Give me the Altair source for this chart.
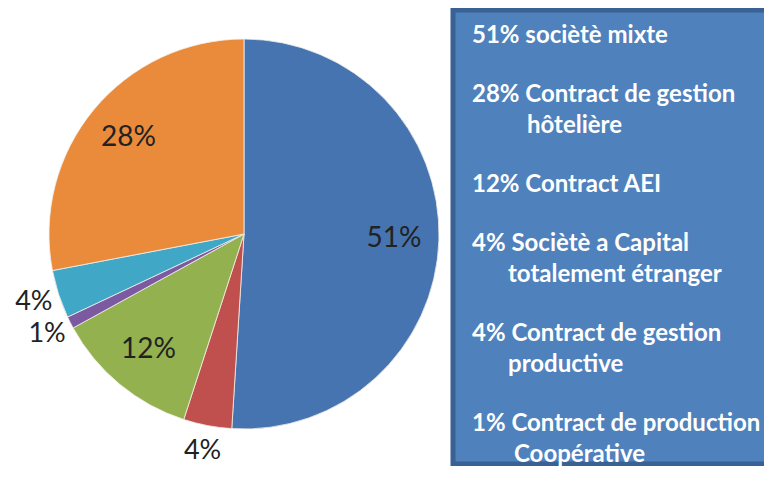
import altair as alt
import pandas as pd

# ---- data ----
categories = [
    "société mixte",
    "Contract de production",
    "Contract AEI",
    "Contract de production Coopérative",
    "Sociètè a Capital totalement étranger",
    "Contract de gestion hôtelière",
]
shares = [51, 4, 12, 1, 4, 28]
slice_colors = ["#4674b0", "#c0504d", "#93b24f", "#7b5aa2", "#41a7c7", "#ea8b3c"]

legend_entries = [
    ["51% sociètè mixte"],
    ["28% Contract de gestion", "hôtelière"],
    ["12% Contract AEI"],
    ["4% Sociètè a Capital", "totalement étranger"],
    ["4% Contract de gestion", "productive"],
    ["1% Contract de production", "Coopérative"],
]
indents = [0, 55, 0, 36, 36, 42]

# ---- layout ----
W, H = 756, 458
CX, CY, R = 236, 226, 195
BOX_X = 443
TEXT_X = BOX_X + 21
FIRST_Y = 28
GROUP_GAP = 59
LINE_GAP = 31

pie_df = pd.DataFrame({
    "idx": list(range(len(categories))),
    "cat": categories,
    "value": shares,
    "lab": [f"{v}%" for v in shares],
})
pie_df["inside"] = [l if v >= 10 else "" for l, v in zip(pie_df["lab"], shares)]
pie_df["outside"] = [l if v < 10 else "" for l, v in zip(pie_df["lab"], shares)]

rows = []
y = FIRST_Y
for entry, ind in zip(legend_entries, indents):
    for j, line in enumerate(entry):
        rows.append({"t": line, "px": TEXT_X + (ind if j > 0 else 0), "py": y + j * LINE_GAP})
    y += GROUP_GAP + LINE_GAP * (len(entry) - 1)
leg_df = pd.DataFrame(rows)

box = alt.Chart(pd.DataFrame({"a": [0]})).mark_rect(
    color="#4f81bd", stroke="#3a6194", strokeWidth=5
).encode(
    x=alt.value(BOX_X + 2), x2=alt.value(W + 10),
    y=alt.value(2), y2=alt.value(H - 2),
)

base = alt.Chart(pie_df).encode(
    theta=alt.Theta("value:Q", stack=True),
    order=alt.Order("idx:Q"),
    x=alt.value(CX), y=alt.value(CY),
)

arcs = base.mark_arc(outerRadius=R, stroke="#f4f0e8", strokeWidth=0.8).encode(
    color=alt.Color("cat:N", scale=alt.Scale(domain=categories, range=slice_colors), legend=None),
)

inside_txt = base.mark_text(radius=150, font="Lato", fontSize=28, color="#222222").encode(
    text="inside:N"
)
outside_txt = base.mark_text(radius=221, font="Lato", fontSize=27, color="#222222").encode(
    text="outside:N"
)

legend_txt = alt.Chart(leg_df).mark_text(
    align="left", baseline="middle", font="Lato", fontWeight="bold", fontSize=24, color="white"
).encode(
    x=alt.X("px:Q", scale=None),
    y=alt.Y("py:Q", scale=None),
    text="t:N",
)

chart = alt.layer(box, arcs, inside_txt, outside_txt, legend_txt).properties(
    width=W, height=H, padding=0, background="white",
    autosize=alt.AutoSizeParams(type="none"),
).configure_view(stroke=None)

chart.save("out.html", embed_options={"renderer": "svg", "actions": False})
